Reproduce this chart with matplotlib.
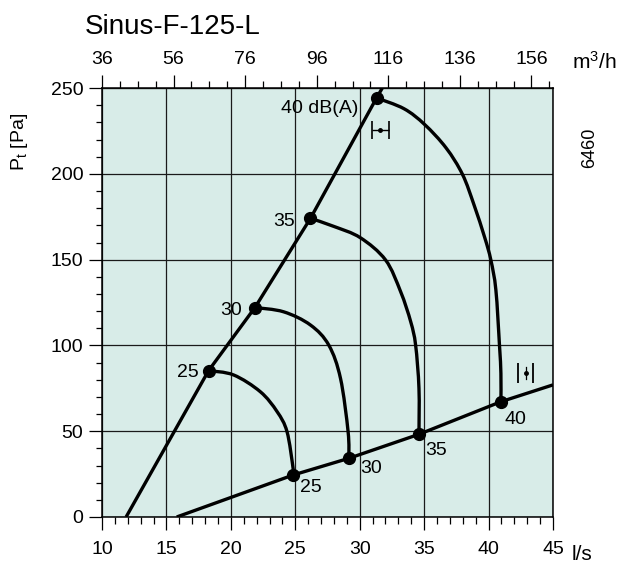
import numpy as np
import matplotlib.pyplot as plt
from matplotlib.path import Path
from matplotlib.patches import PathPatch

plt.rcParams['font.family'] = ['Liberation Sans', 'DejaVu Sans']
plt.rcParams['mathtext.default'] = 'regular'

# system lines (l/s, Pa)
line_hi_q = [11.87, 18.27, 21.87, 26.18, 31.31, 31.75]
line_hi_p = [0, 85.3, 122.1, 174.1, 244.3, 250]
line_lo_q = [15.8, 24.85, 29.16, 34.6, 40.96, 45.0]
line_lo_p = [0, 24.5, 34.2, 48.2, 67.2, 77]

# sound level curves, dB(A)
arc25_q = [18.27, 20.21, 22.29, 23.59, 24.36, 24.83, 24.85]
arc25_p = [85.3, 82.8, 73.0, 61.4, 49.7, 28.4, 24.5]
arc30_q = [21.87, 24.1, 26.18, 27.6, 28.51, 29.1, 29.16]
arc30_p = [122.1, 119.6, 111.9, 100.2, 80.8, 49.7, 34.2]
arc35_q = [26.18, 27.99, 30.05, 32.01, 33.18, 33.96, 34.34, 34.6, 34.6]
arc35_p = [174.1, 169.4, 162.8, 149.8, 131.3, 113.8, 100.2, 75, 48.2]
arc40_q = [31.31, 33.44, 35.04, 36.7, 37.98, 38.88, 39.7, 40.18, 40.57, 40.85, 40.96, 40.96]
arc40_p = [244.3, 238.0, 228.8, 215.2, 199.7, 181.8, 163.0, 149.8, 132.3, 100, 83.7, 67.2]

levels = ['25', '30', '35', '40 dB(A)']
low_labels = ['25', '30', '35', '40']

XMIN, XMAX, YMIN, YMAX = 10, 45, 0, 250


def smooth_path(q, p):
    # Catmull-Rom through the read points, drawn as cubic Bezier segments
    u = (np.asarray(q) - XMIN) / (XMAX - XMIN)
    v = (np.asarray(p) - YMIN) / (YMAX - YMIN)
    pts = np.column_stack([u, v])
    ext = np.vstack([pts[0], pts, pts[-1]])
    verts = [pts[0]]
    codes = [Path.MOVETO]
    for i in range(len(pts) - 1):
        p0, p1, p2, p3 = ext[i], ext[i + 1], ext[i + 2], ext[i + 3]
        verts += [p1 + (p2 - p0) / 6, p2 - (p3 - p1) / 6, p2]
        codes += [Path.CURVE4] * 3
    return Path(verts, codes)


fig = plt.figure(figsize=(6.22, 5.65), dpi=100)
ax = fig.add_axes([0.164, 0.085, 0.725, 0.759])
ax.set_facecolor('#d8ece8')
ax.set_xlim(XMIN, XMAX)
ax.set_ylim(YMIN, YMAX)

ax.set_xticks(np.arange(10, 46, 5))
ax.set_xticks(np.arange(10, 46, 1), minor=True)
ax.set_yticks(np.arange(0, 251, 50))
ax.set_yticks(np.arange(0, 251, 10), minor=True)
ax.grid(True, which='major', color='#1a1a1a', lw=0.9)
ax.set_axisbelow(True)
ax.tick_params(axis='x', which='major', length=9.5, width=0.9, labelsize=14, pad=8)
ax.tick_params(axis='x', which='minor', length=5, width=0.9)
ax.tick_params(axis='y', which='major', length=9.5, width=0.9, labelsize=14, pad=4)
ax.tick_params(axis='y', which='minor', length=4, width=0.9)
for s in ax.spines.values():
    s.set_linewidth(1.1)

top = ax.secondary_xaxis('top', functions=(lambda x: x * 3.6, lambda m: m / 3.6))
top.set_xticks(np.arange(36, 157, 20))
top.set_xticks(np.arange(36, 162, 5), minor=True)
top.tick_params(axis='x', which='major', length=9.5, width=0.9, labelsize=14, pad=5)
top.tick_params(axis='x', which='minor', length=5, width=0.9)

lw = 2.4
ax.plot(line_hi_q, line_hi_p, color='black', lw=lw, solid_capstyle='butt')
ax.plot(line_lo_q, line_lo_p, color='black', lw=lw, solid_capstyle='butt')
arcs = [(arc25_q, arc25_p), (arc30_q, arc30_p), (arc35_q, arc35_p), (arc40_q, arc40_p)]
for q, p in arcs:
    ax.add_patch(PathPatch(smooth_path(q, p), transform=ax.transAxes, fill=False,
                           edgecolor='black', lw=lw, capstyle='round'))
    ax.plot([q[0], q[-1]], [p[0], p[-1]], 'o', color='black', ms=8.5, zorder=4)

# labels on the upper line
up_pos = [(17.5, 84), (20.9, 120.6), (25.0, 172.5), (29.9, 238)]
for lab, (x, y) in zip(levels, up_pos):
    ax.text(x, y, lab, ha='right', va='center', fontsize=14)
# labels on the lower line
lo_pos = [(25.35, 17), (30.05, 28), (35.05, 39), (41.25, 57)]
for lab, (x, y) in zip(low_labels, lo_pos):
    ax.text(x, y, lab, ha='left', va='center', fontsize=14)

# accuracy markers
ax.errorbar([31.6], [225.5], xerr=[[0.68]], fmt='o', color='black', ms=2.5,
            elinewidth=1.0, capsize=6.5, capthick=1.2)
ax.plot([42.25, 43.47], [84.2, 84.2], '|', color='black', ms=14, mew=1.3)
ax.plot([42.87], [84.2], 'o', color='black', ms=2.5)
ax.plot([42.87, 42.87], [80.5, 87.5], color='black', lw=0.9)

fig.text(85 / 622, 1 - 27 / 565, 'Sinus-F-125-L', fontsize=20, ha='left', va='center')
fig.text(20 / 622, 1 - 142 / 565, 'P$_t$ [Pa]', fontsize=14, rotation=90, ha='center', va='center')
fig.text(572 / 622, 1 - 555 / 565, 'l/s', fontsize=15, ha='left', va='center')
fig.text(572 / 622, 1 - 62 / 565, 'm$^3$/h', fontsize=15, ha='left', va='center')
fig.text(590 / 622, 1 - 148 / 565, '6460', fontsize=13, rotation=90, ha='center', va='center')

fig.savefig('out.png', dpi=100)
